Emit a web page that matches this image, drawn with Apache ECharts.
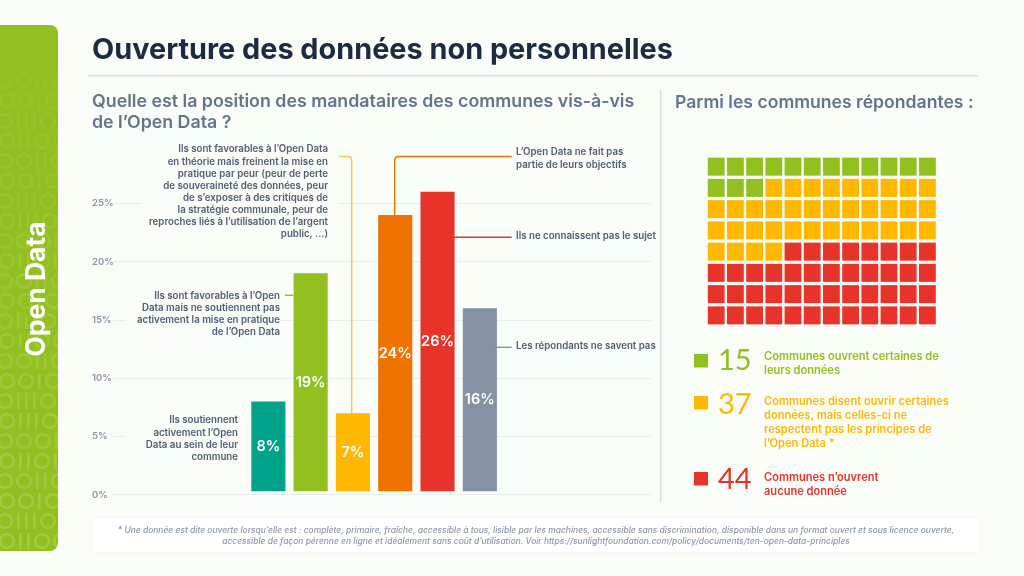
<!DOCTYPE html>
<html><head><meta charset="utf-8">
<style>html,body{margin:0;padding:0;background:#f9fcf7}#c{width:1024px;height:576px}</style>
<script src="https://cdn.jsdelivr.net/npm/echarts@6/dist/echarts.min.js"></script>
</head><body><div id="c"></div>
<script>
const categories = ["Soutien actif","Favorables sans soutien","Favorables mais freinent","Hors objectifs","Ne connaissent pas","Ne savent pas"];
const barValues = [8,19,7,24,26,16];
const yTicks = [0,5,10,15,20,25];
const waffleCounts = [15,37,44];
const waffleColumns = 12;
const waffleRows = 8;
const legendTexts = [
  "Communes ouvrent certaines de\nleurs données",
  "Communes disent ouvrir certaines\ndonnées, mais celles-ci ne\nrespectent pas les principes de\nl’Open Data *",
  "Communes n’ouvrent\naucune donnée"
];
const noteTeal = "Ils soutiennent\nactivement l’Open\nData au sein de leur\ncommune";
const noteGreen = "Ils sont favorables à l’Open\nData mais ne soutiennent pas\nactivement la mise en pratique\nde l’Open Data";
const noteYellow = "Ils sont favorables à l’Open Data\nen théorie mais freinent la mise en\npratique par peur (peur de perte\nde souveraineté des données, peur\nde s’exposer à des critiques de\nla stratégie communale, peur de\nreproches liés à l’utilisation de l’argent\npublic, ...)";
const noteOrange = "L’Open Data ne fait pas\npartie de leurs objectifs";
const noteRed = "Ils ne connaissent pas le sujet";
const noteGray = "Les répondants ne savent pas";
const footnote = "* Une donnée est dite ouverte lorsqu’elle est : complète, primaire, fraîche, accessible à tous, lisible par les machines, accessible sans discrimination, disponible dans un format ouvert et sous licence ouverte,\naccessible de façon pérenne en ligne et idéalement sans coût d’utilisation. Voir https://sunlightfoundation.com/policy/documents/ten-open-data-principles";
const binaryRows = ["101100","011101","100100","001100","101101","000100","101110","011101","100100","001101"];

const PAGE="#f9fcf7", TEAL="#00a389", GREEN="#92c020", YELLOW="#ffb800", ORANGE="#f07300", RED="#e8332a", GRAY="#8592a3";
const barColors=[TEAL,GREEN,YELLOW,ORANGE,RED,GRAY];
const waffleColors=[GREEN,YELLOW,RED];
const INK="#4f5f73";
const F='Inter, "Noto Sans", sans-serif';

const waffleData=[];
(function(){let n=0;waffleCounts.forEach((c,k)=>{for(let j=0;j<c;j++){
  waffleData.push({value:[n%waffleColumns,Math.floor(n/waffleColumns)],itemStyle:{color:waffleColors[k],opacity:1}});n++;}});})();

function txt(x,y,text,font,fill,extra){
  return {type:'text',z:50,x:x,y:y,style:Object.assign({text:text,font:font,fill:fill,align:'left',verticalAlign:'top'},extra||{})};
}
function leader(points,color){
  return {type:'polyline',z:40,shape:{points:points},style:{stroke:color,lineWidth:1.4,fill:null}};
}
const g=[];
g.push({type:'rect',z:1,shape:{x:-10,y:25,width:68,height:526,r:8},style:{fill:GREEN}});
binaryRows.concat(binaryRows,binaryRows).forEach((row,r)=>{
  const cy=541-r*20; if(cy<70) return;
  const op=0.04+0.13*(cy-70)/471;
  let x=(r%2)?-3:-9;
  for(const ch of row){
    if(ch==='0'){
      g.push({type:'circle',z:2,silent:true,shape:{cx:x+8,cy:cy,r:6.8},style:{fill:null,stroke:'#fff',lineWidth:2.6,opacity:op}});
      x+=19;
    }else{
      g.push({type:'rect',z:2,silent:true,shape:{x:x+1,y:cy-8,width:2.6,height:16},style:{fill:'#fff',opacity:op}});
      x+=8;
    }
  }
});
g.push({type:'rect',z:3,shape:{x:58,y:15,width:14,height:548},style:{fill:PAGE}});
g.push({type:'rect',z:3,shape:{x:0,y:551,width:72,height:14},style:{fill:PAGE}});
g.push({type:'text',z:50,x:37,y:289,rotation:Math.PI/2,style:{text:"Open Data",font:'700 26.5px '+F,fill:'#fff',align:'center',verticalAlign:'middle'}});
g.push(txt(92,35.5,"Ouverture des données non personnelles",'700 28.85px '+F,"#1c2b3f"));
g.push({type:'rect',z:3,shape:{x:88,y:75,width:890,height:1.2},style:{fill:"#d9dee3"}});
g.push(txt(92,91,"Quelle est la position des mandataires des communes vis-à-vis\nde l’Open Data ?",'600 17.8px '+F,"#64748b",{lineHeight:21}));
g.push(txt(675,94,"Parmi les communes répondantes :",'600 17.6px '+F,"#64748b"));
g.push({type:'rect',z:3,shape:{x:660,y:90,width:1.4,height:412},style:{fill:"#d9dee3"}});
const noteFont='600 9.7px '+F;
g.push(txt(339,143.5,noteYellow,noteFont,INK,{align:'right',lineHeight:12.1,backgroundColor:PAGE,padding:[0,11,0,8]}));
g.push(txt(280,290,noteGreen,noteFont,INK,{align:'right',lineHeight:12.1,backgroundColor:PAGE,padding:[0,0,0,11]}));
g.push(txt(251,414.5,noteTeal,noteFont,INK,{align:'right',lineHeight:12.1,backgroundColor:PAGE,padding:[0,13,0,21]}));
g.push(txt(516,146,noteOrange,noteFont,INK,{lineHeight:12.6}));
g.push(txt(516,231.5,noteRed,noteFont,INK));
g.push(txt(516,341.5,noteGray,noteFont,INK));
g.push(leader([[243,421],[251,421]],TEAL));
g.push(leader([[285,295.3],[293,295.3]],GREEN));
g.push(leader([[351.7,413],[351.7,160],[351.3,158.2],[350.1,157],[348.3,156.5],[337,156.5]],"#fcc544"));
g.push({...leader([[394.7,223],[394.7,160],[395.1,158.2],[396.3,157],[398.1,156.5],[511.7,156.5]],ORANGE),z:60});
g.push(leader([[454,237.3],[511.7,237.3]],RED));
g.push(leader([[491.7,347.3],[511.7,347.3]],GRAY));
[[354,346.5,350],[396,390.5,395],[472,465.5,471]].forEach((l,k)=>{
  const col=waffleColors[k];
  g.push({type:'rect',z:5,shape:{x:694,y:l[0],width:14,height:13.5},style:{fill:col}});
  g.push(txt(718,l[1],String(waffleCounts[k]),'400 29px Lato, sans-serif',col,{}));
  g.push(txt(764,l[2],legendTexts[k],'600 11.1px '+F,col,{lineHeight:14}));
});
g.push({type:'rect',z:3,shape:{x:93,y:518,width:886,height:34,r:4},style:{fill:'#fff',shadowBlur:3,shadowColor:'rgba(0,0,0,0.05)'}});
g.push(txt(536,525,footnote,'italic 500 8.45px '+F,"#8a97a8",{align:'center',lineHeight:11}));

const chart=echarts.init(document.getElementById('c'),null,{renderer:'canvas'});
const TOP=145.2, H=349.5;
chart.setOption({
  animation:false,
  backgroundColor:PAGE,
  graphic:{elements:g},
  grid:[
    {left:113,top:TOP,width:538,height:H},
    {left:247.2,top:TOP,width:253.8,height:H},
    {left:706.6,top:156,width:230.4,height:170}
  ],
  xAxis:[
    {type:'value',gridIndex:0,min:0,max:1,show:false},
    {type:'category',gridIndex:1,data:categories,show:false},
    {type:'category',gridIndex:2,data:Array.from({length:waffleColumns},(_,i)=>i),show:false}
  ],
  yAxis:[
    {type:'value',gridIndex:0,min:0,max:30,interval:5,
      axisLine:{show:false},axisTick:{show:false},
      axisLabel:{show:true,showMaxLabel:false,align:'left',margin:21,color:"#8a97a8",fontFamily:'Inter',fontWeight:600,fontSize:9.5,
        formatter:v=>yTicks.includes(v)?v+'%':''},
      splitLine:{show:true,showMaxLine:false,lineStyle:{color:"#e8ecec",width:1}}},
    {type:'value',gridIndex:1,min:0,max:30,interval:5,show:false},
    {type:'category',gridIndex:2,inverse:true,data:Array.from({length:waffleRows},(_,i)=>i),show:false}
  ],
  series:[
    {type:'custom',xAxisIndex:1,yAxisIndex:1,z:10,
      encode:{x:0,y:1},
      data:barValues.map((v,i)=>[i,v]),
      renderItem:function(params,api){
        const i=api.value(0),v=api.value(1);
        const top=api.coord([i,v]), base=api.coord([i,0]);
        const w=api.size([1,0])[0]*0.806;
        const bottom=base[1]-3.4;
        return {type:'group',children:[
          {type:'rect',shape:{x:top[0]-w/2,y:top[1],width:w,height:bottom-top[1]},style:{fill:barColors[i]}},
          {type:'text',x:top[0],y:(top[1]+bottom)/2,style:{text:v+'%',fill:'#fff',font:'600 14.5px '+F,align:'center',verticalAlign:'middle'}}
        ]};
      }},
    {type:'scatter',xAxisIndex:2,yAxisIndex:2,z:10,symbol:'rect',symbolSize:[16.8,18],itemStyle:{opacity:1},data:waffleData,silent:true}
  ]
});
</script></body></html>
